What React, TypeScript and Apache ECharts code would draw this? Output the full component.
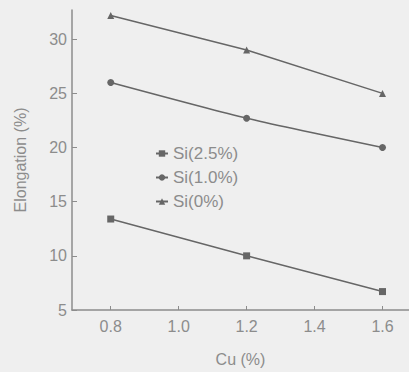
import React, { useEffect, useRef } from "react";
import * as echarts from "echarts";

const cuValues = [0.8, 1.2, 1.6];
const si25 = [13.4, 10.0, 6.7];
const si10 = [26.0, 22.7, 20.0];
const si0 = [32.2, 29.0, 25.0];
const seriesNames = ["Si(2.5%)", "Si(1.0%)", "Si(0%)"];
const xTicks = [0.8, 1.0, 1.2, 1.4, 1.6];
const yTicks = [5, 10, 15, 20, 25, 30];

const GRAY = "#8c8c8c";
const LINE = "#666666";

export default function App() {
  const ref = useRef<HTMLDivElement>(null);
  useEffect(() => {
    if (!ref.current) return;
    const chart = echarts.init(ref.current, null, { renderer: "svg" });
    const mk = (vals: number[]) => cuValues.map((x, i) => [x, vals[i]]);
    const font = "Liberation Sans, Arial, sans-serif";
    chart.setOption({
      animation: false,
      backgroundColor: "#efefef",
      textStyle: { fontFamily: font },
      grid: { left: 72, top: 10, right: 0, bottom: 61 },
      legend: {
        orient: "vertical",
        left: 150,
        top: 140,
        itemWidth: 12,
        itemHeight: 8,
        itemGap: 7,
        data: seriesNames,
        textStyle: { color: GRAY, fontSize: 17, lineHeight: 17, fontFamily: font },
      },
      xAxis: {
        type: "value",
        min: 0.686,
        max: 1.678,
        name: "Cu (%)",
        nameLocation: "middle",
        nameGap: 41,
        nameTextStyle: { color: GRAY, fontSize: 16, fontFamily: font },
        axisLine: { lineStyle: { color: GRAY, width: 1.5 } },
        axisTick: { inside: true, length: 4, customValues: xTicks, lineStyle: { color: GRAY } },
        axisLabel: {
          customValues: xTicks,
          color: GRAY,
          fontSize: 16,
          margin: 8,
          formatter: (v: number) => v.toFixed(1),
        },
        splitLine: { show: false },
      },
      yAxis: {
        type: "value",
        min: 5,
        max: 32.7,
        name: "Elongation (%)",
        nameLocation: "middle",
        nameGap: 44,
        nameTextStyle: { color: GRAY, fontSize: 16, fontFamily: font },
        axisLine: { show: true, lineStyle: { color: GRAY, width: 1.5 } },
        axisTick: { show: true, inside: true, length: 5, customValues: yTicks, lineStyle: { color: GRAY } },
        axisLabel: { customValues: yTicks, color: GRAY, fontSize: 16, margin: 5 },
        splitLine: { show: false },
      },
      series: [
        {
          name: seriesNames[0],
          type: "line",
          data: mk(si25),
          symbol: "rect",
          symbolSize: 7,
          color: LINE,
          lineStyle: { color: LINE, width: 1.5 },
          itemStyle: { color: LINE },
        },
        {
          name: seriesNames[1],
          type: "line",
          data: mk(si10),
          symbol: "circle",
          symbolSize: 7,
          smooth: 0.2,
          color: LINE,
          lineStyle: { color: LINE, width: 1.5 },
          itemStyle: { color: LINE },
        },
        {
          name: seriesNames[2],
          type: "line",
          data: mk(si0),
          symbol: "triangle",
          symbolSize: 7,
          color: LINE,
          lineStyle: { color: LINE, width: 1.5 },
          itemStyle: { color: LINE },
        },
      ],
    });
    return () => chart.dispose();
  }, []);
  return <div ref={ref} style={{ width: 409, height: 372, position: "fixed", left: 0, top: 0 }} />;
}
